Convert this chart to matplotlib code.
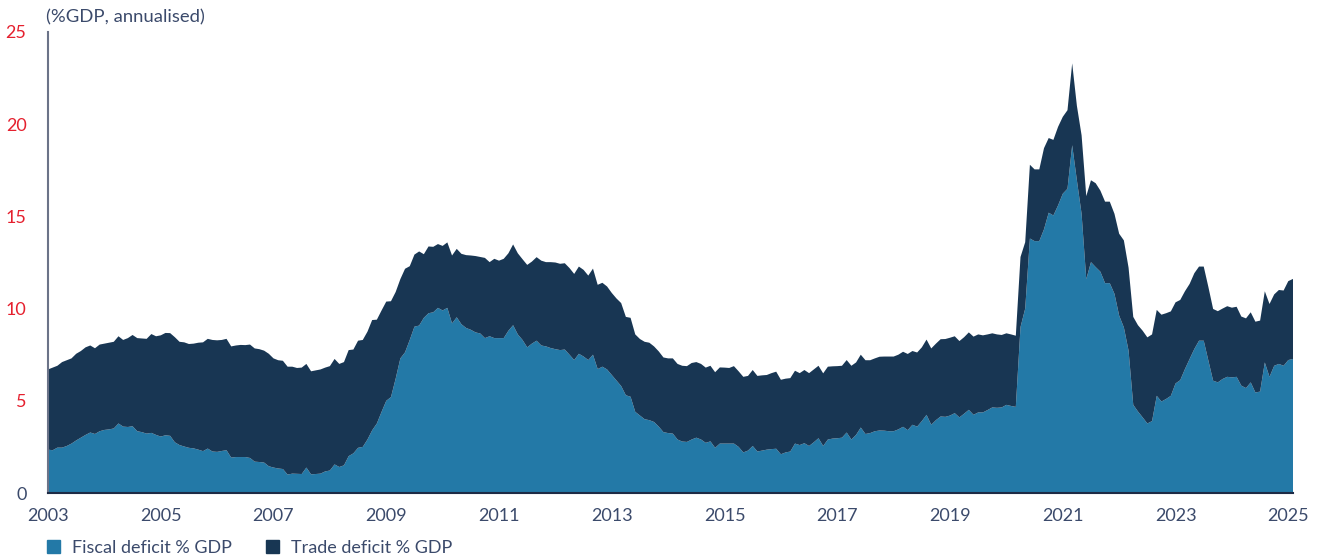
import numpy as np
import matplotlib.pyplot as plt
from matplotlib.patches import Patch

# monthly series, Jan 2003 .. Feb 2025 (%GDP, annualised)
fiscal = [
    2.35, 2.32, 2.46, 2.46, 2.55, 2.68, 2.85, 3.00, 3.15, 3.28, 3.20, 3.35,  # 2003
    3.42, 3.45, 3.50, 3.77, 3.60, 3.58, 3.62, 3.35, 3.30, 3.22, 3.26, 3.15,  # 2004
    3.06, 3.13, 3.10, 2.75, 2.60, 2.52, 2.45, 2.42, 2.35, 2.27, 2.41, 2.25,  # 2005
    2.23, 2.28, 2.32, 1.92, 1.95, 1.95, 1.95, 1.90, 1.70, 1.68, 1.65, 1.45,  # 2006
    1.38, 1.33, 1.30, 1.00, 1.05, 1.04, 1.03, 1.38, 1.01, 1.03, 1.05, 1.17,  # 2007
    1.22, 1.55, 1.41, 1.50, 2.00, 2.15, 2.45, 2.50, 2.90, 3.40, 3.77, 4.40,  # 2008
    5.00, 5.20, 6.20, 7.30, 7.63, 8.30, 9.02, 9.08, 9.50, 9.75, 9.80, 10.04,  # 2009
    9.90, 10.04, 9.20, 9.53, 9.15, 8.95, 8.85, 8.71, 8.65, 8.40, 8.50, 8.40,  # 2010
    8.40, 8.40, 8.80, 9.10, 8.60, 8.30, 7.90, 8.10, 8.26, 8.00, 7.95, 7.86,  # 2011
    7.80, 7.75, 7.78, 7.50, 7.21, 7.55, 7.40, 7.21, 7.50, 6.72, 6.85, 6.70,  # 2012
    6.40, 6.10, 5.80, 5.30, 5.22, 4.40, 4.20, 4.00, 3.95, 3.85, 3.60, 3.30,  # 2013
    3.25, 3.22, 2.90, 2.79, 2.77, 2.90, 3.00, 2.90, 2.72, 2.80, 2.45, 2.68,  # 2014
    2.68, 2.68, 2.68, 2.50, 2.20, 2.30, 2.55, 2.25, 2.30, 2.35, 2.38, 2.40,  # 2015
    2.10, 2.20, 2.25, 2.68, 2.60, 2.70, 2.55, 2.75, 2.97, 2.55, 2.90, 2.95,  # 2016
    2.97, 3.00, 3.28, 2.90, 3.15, 3.55, 3.20, 3.25, 3.35, 3.39, 3.38, 3.35,  # 2017
    3.35, 3.45, 3.59, 3.41, 3.70, 3.60, 3.90, 4.24, 3.70, 3.95, 4.15, 4.13,  # 2018
    4.20, 4.33, 4.10, 4.30, 4.51, 4.24, 4.37, 4.37, 4.50, 4.64, 4.62, 4.64,  # 2019
    4.78, 4.72, 4.67, 9.00, 10.00, 13.80, 13.66, 13.66, 14.30, 15.20, 15.05, 15.60,  # 2020
    16.23, 16.50, 18.86, 16.96, 15.14, 11.60, 12.52, 12.25, 12.00, 11.38, 11.38, 10.80,  # 2021
    9.62, 8.98, 7.72, 4.78, 4.42, 4.10, 3.77, 3.90, 5.27, 4.96, 5.10, 5.27,  # 2022
    5.94, 6.12, 6.72, 7.27, 7.81, 8.26, 8.26, 7.17, 6.09, 6.00, 6.18, 6.30,  # 2023
    6.27, 6.30, 5.82, 5.69, 6.00, 5.45, 5.50, 7.08, 6.30, 6.90, 7.00, 6.90,  # 2024
    7.21, 7.27,  # 2025
]
trade = [
    4.35, 4.48, 4.44, 4.64, 4.65, 4.62, 4.70, 4.70, 4.75, 4.72, 4.65, 4.70,  # 2003
    4.68, 4.70, 4.70, 4.73, 4.70, 4.82, 4.95, 5.05, 5.08, 5.14, 5.36, 5.35,  # 2004
    5.49, 5.55, 5.57, 5.70, 5.60, 5.65, 5.63, 5.68, 5.80, 5.90, 5.95, 6.05,  # 2005
    6.05, 6.02, 6.04, 6.03, 6.05, 6.08, 6.07, 6.15, 6.14, 6.12, 6.07, 6.10,  # 2006
    5.92, 5.87, 5.87, 5.85, 5.80, 5.74, 5.77, 5.62, 5.59, 5.62, 5.65, 5.63,  # 2007
    5.66, 5.72, 5.59, 5.60, 5.75, 5.63, 5.81, 5.80, 5.85, 5.98, 5.63, 5.50,  # 2008
    5.38, 5.20, 4.70, 4.30, 4.53, 4.00, 3.91, 4.02, 3.45, 3.62, 3.55, 3.46,  # 2009
    3.50, 3.55, 3.68, 3.71, 3.82, 3.95, 4.03, 4.14, 4.15, 4.35, 4.02, 4.30,  # 2010
    4.20, 4.30, 4.20, 4.38, 4.40, 4.38, 4.47, 4.45, 4.53, 4.60, 4.57, 4.66,  # 2011
    4.70, 4.68, 4.68, 4.70, 4.67, 4.73, 4.70, 4.58, 4.67, 4.57, 4.55, 4.50,  # 2012
    4.45, 4.45, 4.50, 4.25, 4.28, 4.20, 4.15, 4.20, 4.20, 4.10, 4.08, 4.05,  # 2013
    4.05, 4.08, 4.10, 4.11, 4.11, 4.15, 4.10, 4.10, 4.08, 4.10, 4.10, 4.13,  # 2014
    4.12, 4.10, 4.20, 4.10, 4.10, 4.05, 4.12, 4.10, 4.08, 4.05, 4.12, 4.18,  # 2015
    4.04, 4.00, 3.98, 3.95, 3.90, 3.97, 3.95, 3.95, 3.93, 3.94, 3.95, 3.92,  # 2016
    3.91, 3.90, 3.93, 4.00, 3.93, 3.95, 4.00, 3.95, 3.95, 4.00, 4.02, 4.05,  # 2017
    4.05, 4.05, 4.07, 4.13, 4.00, 4.02, 4.00, 4.08, 4.14, 4.15, 4.19, 4.22,  # 2018
    4.22, 4.17, 4.14, 4.15, 4.20, 4.24, 4.23, 4.18, 4.10, 4.02, 3.98, 3.93,  # 2019
    3.88, 3.88, 3.86, 3.80, 3.60, 4.00, 3.89, 3.89, 4.40, 4.05, 4.10, 4.26,  # 2020
    4.17, 4.26, 4.44, 4.04, 4.26, 4.50, 4.44, 4.55, 4.40, 4.42, 4.42, 4.34,  # 2021
    4.44, 4.72, 4.50, 4.77, 4.68, 4.70, 4.67, 4.70, 4.66, 4.71, 4.65, 4.58,  # 2022
    4.40, 4.35, 4.22, 4.07, 4.11, 4.02, 4.02, 3.99, 3.89, 3.86, 3.82, 3.83,  # 2023
    3.78, 3.80, 3.75, 3.78, 3.80, 3.84, 3.85, 3.86, 3.95, 3.87, 4.01, 4.08,  # 2024
    4.28, 4.34,  # 2025
]
series_names = ['Fiscal deficit % GDP', 'Trade deficit % GDP']
year_ticks = list(range(2003, 2026, 2))
y_ticks = [0, 5, 10, 15, 20, 25]

fiscal_col = '#2379A7'
trade_col = '#183653'
text_col = '#3B4A6B'
red = '#E5202E'

plt.rcParams['font.family'] = ['Lato', 'DejaVu Sans']

x = 2003 + np.arange(len(fiscal)) / 12

fig = plt.figure(figsize=(13.21, 5.6), dpi=100)
ax = fig.add_axes([48 / 1321, 1 - 493 / 560, (1293 - 48) / 1321, (493 - 32) / 560])

ax.stackplot(x, fiscal, trade, colors=[fiscal_col, trade_col], linewidth=0)

ax.set_xlim(x[0], x[-1])
ax.set_ylim(0, 25)
ax.set_xticks(year_ticks)
ax.set_xticklabels([str(y) for y in year_ticks])
ax.set_yticks(y_ticks)
ax.set_yticklabels([str(v) for v in y_ticks])

ax.tick_params(axis='x', length=0, pad=10.5, labelsize=13, labelcolor=text_col)
ax.tick_params(axis='y', length=0, pad=15.5, labelsize=13, labelcolor=red)
ax.get_yticklabels()[0].set_color(text_col)

for s in ['top', 'right']:
    ax.spines[s].set_visible(False)
ax.spines['left'].set_color('#6B7388')
ax.spines['left'].set_linewidth(1.5)
ax.spines['bottom'].set_color('#1E2B45')
ax.spines['bottom'].set_linewidth(1.5)

fig.text(46 / 1321, 1 - 17 / 560, '(%GDP, annualised)', color=text_col,
         fontsize=13.3, ha='left', va='center')

handles = [Patch(color=fiscal_col), Patch(color=trade_col)]
fig.legend(handles, series_names, loc='center left', bbox_to_anchor=(31 / 1321, 1 - 548 / 560),
           ncol=2, frameon=False, fontsize=13, labelcolor=text_col,
           handlelength=0.72, handleheight=0.72, handletextpad=0.66, columnspacing=1.88)

fig.savefig('out.png', dpi=100)
